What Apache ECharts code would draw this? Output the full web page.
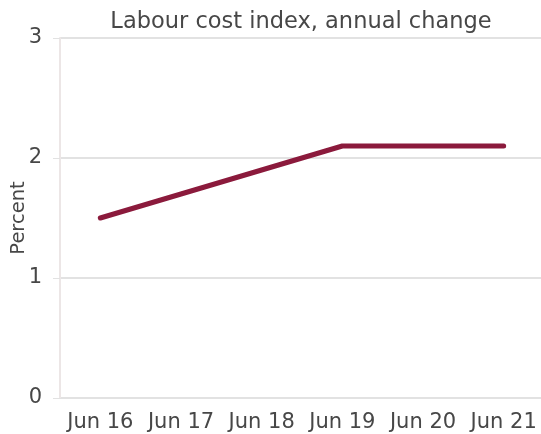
<!DOCTYPE html>
<html>
<head>
<meta charset="utf-8">
<script src="https://cdn.jsdelivr.net/npm/echarts@6/dist/echarts.min.js"></script>
<style>
  html, body { margin: 0; padding: 0; background: #fff; }
  #chart { width: 541px; height: 434px; }
</style>
</head>
<body>
<div id="chart"></div>
<script>
// Labour cost index, annual % change (June quarters)
const categories = ['Jun 16', 'Jun 17', 'Jun 18', 'Jun 19', 'Jun 20', 'Jun 21'];
const lciChange = [1.5, 1.7, 1.9, 2.1, 2.1, 2.1];
const yTicks = { min: 0, max: 3, interval: 1 };

const textColor = '#474747';
const fontFamily = '"DejaVu Sans", "Noto Sans", sans-serif';

const chart = echarts.init(document.getElementById('chart'), null, { renderer: 'canvas' });
chart.setOption({
  animation: false,
  backgroundColor: '#ffffff',
  title: {
    text: 'Labour cost index, annual change',
    left: 296,
    textAlign: 'center',
    top: 6,
    textStyle: { color: textColor, fontSize: 22.5, fontWeight: 'normal', fontFamily: fontFamily }
  },
  grid: { left: 60, right: -3, top: 38, bottom: 36, containLabel: false, outerBoundsMode: 'none' },
  xAxis: {
    type: 'category',
    data: categories,
    boundaryGap: true,
    axisLine: { show: true, lineStyle: { color: '#e2e2e2', width: 1 } },
    axisTick: { show: false },
    axisLabel: {
      color: textColor, fontSize: 21, fontFamily: fontFamily, margin: 14,
      interval: 0, hideOverlap: false
    }
  },
  yAxis: {
    type: 'value',
    min: yTicks.min,
    max: yTicks.max,
    interval: yTicks.interval,
    name: 'Percent',
    nameLocation: 'middle',
    nameGap: 31,
    nameRotate: 90,
    nameMoveOverlap: false,
    nameTextStyle: { color: textColor, fontSize: 19.5, fontFamily: fontFamily },
    axisLine: { show: true, lineStyle: { color: '#ece6e6', width: 2 } },
    axisTick: { show: true, length: 7, lineStyle: { color: '#e2e2e2' } },
    axisLabel: { color: textColor, fontSize: 21, fontFamily: fontFamily, margin: 18 },
    splitLine: { show: true, lineStyle: { color: '#e2e2e2', width: 2 } }
  },
  series: [{
    type: 'line',
    data: lciChange,
    symbol: 'none',
    lineStyle: { color: '#8b1a3c', width: 5, cap: 'round', join: 'round' }
  }]
});
</script>
</body>
</html>
